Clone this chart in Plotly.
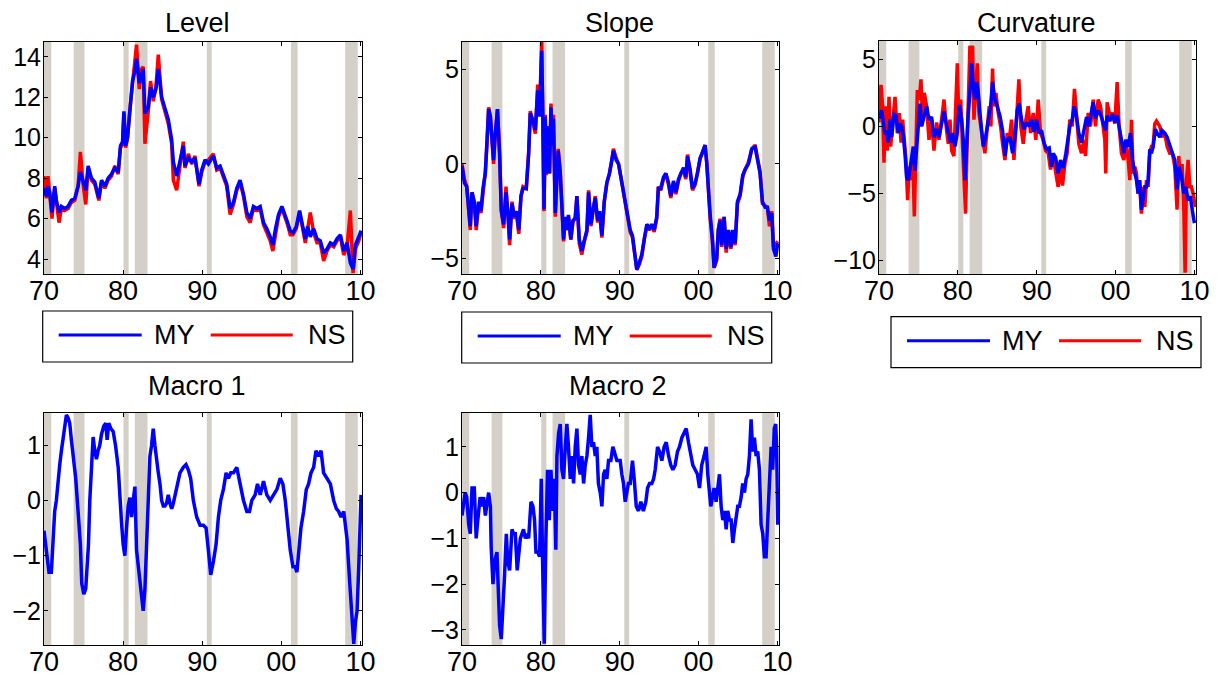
import plotly.graph_objects as go

# ---------------- data ----------------
recessions = [[1970.0, 1970.92], [1973.75, 1975.12], [1980.05, 1980.7], [1981.48, 1983.08],
              [1990.58, 1991.2], [2001.22, 2002.05], [2008.07, 2009.66]]

tick_years = [1970, 1980, 1990, 2000, 2010]
tick_year_labels = ["70", "80", "90", "00", "10"]

level_years = [1970.00, 1970.30, 1970.51, 1970.72, 1971.01, 1971.35, 1971.56, 1971.90, 1972.20, 1972.62,
               1973.04, 1973.46, 1973.89, 1974.31, 1974.60, 1974.94, 1975.28, 1975.58, 1976.00, 1976.42,
               1976.93, 1977.27, 1977.69, 1978.11, 1978.53, 1978.95, 1979.38, 1979.67, 1979.93, 1980.10,
               1980.31, 1980.56, 1980.86, 1981.19, 1981.49, 1981.70, 1982.04, 1982.33, 1982.54, 1982.76,
               1983.18, 1983.47, 1983.81, 1984.15, 1984.45, 1984.87, 1985.29, 1985.71, 1986.14, 1986.35,
               1986.77, 1987.19, 1987.61, 1987.82, 1988.25, 1988.67, 1989.09, 1989.60, 1989.94, 1990.36,
               1990.78, 1991.41, 1991.84, 1992.26, 1992.68, 1993.10, 1993.53, 1993.95, 1994.37, 1994.79,
               1995.22, 1995.64, 1996.06, 1996.48, 1996.91, 1997.33, 1997.75, 1998.17, 1998.60, 1998.93,
               1999.27, 1999.65, 2000.07, 2000.37, 2000.71, 2001.13, 2001.47, 2001.89, 2002.31, 2002.61,
               2003.03, 2003.33, 2003.66, 2004.09, 2004.51, 2004.93, 2005.35, 2005.78, 2006.20, 2006.62,
               2007.04, 2007.47, 2007.89, 2008.31, 2008.73, 2009.07, 2009.37, 2009.79, 2010.08]
level_my = [7.5, 7.1, 7.6, 7.3, 6.3, 7.6, 6.9, 6.3, 6.6, 6.5,
            6.6, 6.9, 7.0, 7.6, 8.3, 7.8, 7.4, 8.6, 8.0, 7.8,
            7.0, 7.9, 7.6, 8.0, 8.2, 8.5, 8.3, 9.6, 9.8, 11.3,
            9.6, 10.0, 11.6, 12.8, 13.3, 13.9, 12.7, 13.2, 13.4, 11.2,
            11.5, 12.5, 12.0, 12.4, 13.4, 12.0, 11.5, 10.9, 9.9, 8.8,
            8.1, 8.8, 9.6, 8.6, 9.0, 8.8, 9.0, 7.7, 8.4, 8.9,
            8.7, 9.1, 8.5, 8.6, 8.2, 7.7, 6.5, 6.8, 7.5, 7.9,
            7.2, 6.3, 6.0, 6.6, 6.5, 6.6, 5.8, 5.5, 5.1, 4.7,
            5.5, 6.2, 6.6, 6.3, 5.9, 5.4, 5.3, 5.6, 6.4, 5.8,
            5.0, 5.6, 5.1, 5.5, 5.0, 4.9, 4.3, 4.5, 4.8, 4.7,
            5.0, 5.2, 4.4, 4.8, 3.8, 3.5, 4.7, 5.1, 5.4]
level_ns = [8.1, 7.0, 8.1, 7.2, 6.0, 7.5, 6.7, 5.8, 6.5, 6.4,
            6.5, 6.8, 6.9, 7.6, 9.3, 7.7, 6.7, 8.5, 7.9, 7.7,
            6.9, 7.8, 7.5, 7.9, 8.1, 8.6, 8.2, 9.5, 9.7, 11.2,
            9.5, 10.0, 11.4, 12.6, 14.0, 14.6, 12.4, 13.4, 13.5, 9.7,
            11.3, 12.8, 11.8, 12.5, 14.1, 11.9, 11.3, 10.7, 9.7, 7.9,
            7.4, 8.7, 9.8, 8.5, 9.2, 8.7, 9.1, 7.6, 8.3, 8.8,
            8.9, 9.2, 8.4, 8.5, 8.1, 7.6, 6.2, 6.7, 7.4, 7.8,
            7.1, 6.1, 5.8, 6.5, 6.4, 6.5, 5.7, 5.3, 4.9, 4.4,
            5.3, 6.1, 6.5, 6.2, 5.8, 5.2, 5.2, 5.5, 6.3, 5.7,
            4.8, 5.5, 6.3, 5.3, 4.8, 4.8, 3.9, 4.4, 4.7, 4.6,
            4.9, 5.1, 4.2, 4.6, 6.4, 3.3, 4.5, 4.9, 5.3]

slope_years = [1970.00, 1970.30, 1970.60, 1970.85, 1971.05, 1971.27, 1971.56, 1971.80, 1972.10, 1972.40,
               1972.66, 1972.96, 1973.17, 1973.38, 1973.60, 1973.80, 1974.00, 1974.20, 1974.50, 1974.77,
               1974.98, 1975.28, 1975.58, 1975.80, 1976.04, 1976.34, 1976.63, 1976.90, 1977.20, 1977.48,
               1977.73, 1978.15, 1978.45, 1978.66, 1979.00, 1979.30, 1979.60, 1979.84, 1980.10, 1980.26,
               1980.40, 1980.56, 1980.70, 1980.90, 1981.10, 1981.28, 1981.45, 1981.60, 1981.83, 1982.04,
               1982.20, 1982.46, 1982.67, 1982.88, 1983.10, 1983.30, 1983.50, 1983.80, 1984.06, 1984.36,
               1984.57, 1984.87, 1985.20, 1985.50, 1985.84, 1986.05, 1986.35, 1986.60, 1986.90, 1987.20,
               1987.45, 1987.74, 1988.04, 1988.37, 1988.70, 1989.00, 1989.20, 1989.56, 1989.85, 1990.15,
               1990.50, 1990.74, 1991.00, 1991.33, 1991.62, 1991.88, 1992.17, 1992.50, 1992.80, 1993.15,
               1993.44, 1993.78, 1994.07, 1994.37, 1994.70, 1994.90, 1995.20, 1995.55, 1995.85, 1996.19,
               1996.48, 1996.82, 1997.12, 1997.46, 1997.75, 1998.09, 1998.38, 1998.60, 1998.93, 1999.23,
               1999.57, 1999.86, 2000.20, 2000.50, 2000.83, 2001.04, 2001.25, 2001.47, 2001.76, 2001.97,
               2002.30, 2002.50, 2002.73, 2002.94, 2003.24, 2003.50, 2003.80, 2004.10, 2004.34, 2004.64,
               2004.93, 2005.27, 2005.60, 2005.90, 2006.33, 2006.75, 2007.17, 2007.46, 2007.80, 2008.10,
               2008.44, 2008.73, 2008.99, 2009.28, 2009.50, 2009.80, 2010.04]
slope_my = [-0.1, -1.0, -1.2, -2.5, -3.3, -1.5, -2.0, -3.3, -2.0, -2.5,
            -1.3, -0.5, 1.0, 2.9, 2.5, 1.0, 0.2, 1.5, 2.9, 0.5,
            -2.5, -3.2, -1.5, -2.5, -4.0, -2.1, -2.8, -2.5, -3.5, -1.7,
            -1.3, -1.3, 0.5, 2.7, 2.3, 1.8, 3.9, 2.5, 6.0, 2.5,
            -2.4, 2.5, -0.5, 2.0, -0.5, 3.0, 1.0, 2.4, -2.6, -0.8,
            0.7, -0.5, -2.0, -4.0, -2.8, -3.5, -2.7, -4.0, -3.0, -2.9,
            -1.7, -4.0, -4.6, -4.0, -3.5, -1.5, -3.2, -2.5, -1.8, -3.0,
            -2.5, -3.8, -2.0, -1.0, -0.5, 0.2, 0.7, 0.2, 0.0, -0.7,
            -1.5, -2.1, -2.5, -3.5, -3.8, -4.8, -5.6, -5.2, -4.8, -3.9,
            -3.2, -3.4, -3.2, -3.5, -2.8, -1.3, -1.3, -0.7, -0.5, -1.0,
            -1.7, -0.9, -1.5, -0.8, -0.5, -0.2, -0.7, 0.4, -0.3, -1.3,
            -1.0, -0.5, 0.3, 0.6, 1.0, 0.0, -1.5, -2.7, -4.0, -5.5,
            -5.0, -3.5, -3.0, -4.3, -2.8, -4.5, -3.5, -4.4, -3.5, -4.2,
            -2.0, -1.6, -0.6, -0.3, 0.0, 0.8, 0.9, 0.3, -0.5, -2.0,
            -2.3, -2.3, -3.0, -2.6, -4.5, -4.9, -4.2]
slope_ns = [0.0, -0.8, -1.2, -2.6, -3.5, -1.5, -2.1, -3.5, -2.2, -2.6,
            -1.4, -0.4, 1.1, 3.0, 2.5, 0.9, 0.0, 1.4, 2.9, 0.6,
            -2.4, -3.4, -1.2, -2.5, -4.3, -2.0, -2.9, -2.6, -3.7, -1.7,
            -1.2, -1.3, 0.6, 2.8, 2.2, 1.6, 4.2, 2.6, 6.5, 2.6,
            -2.5, 2.6, -0.6, 2.0, -0.5, 3.2, 1.1, 2.6, -2.8, -0.7,
            0.8, -0.4, -2.1, -4.1, -2.9, -3.5, -2.8, -4.0, -3.1, -2.8,
            -1.7, -4.2, -4.8, -4.1, -3.6, -1.4, -3.3, -2.6, -1.7, -3.1,
            -2.6, -3.9, -2.0, -1.0, -0.5, 0.2, 0.8, 0.3, 0.0, -0.7,
            -1.6, -2.2, -2.6, -3.6, -3.9, -4.9, -5.6, -5.3, -4.9, -3.9,
            -3.3, -3.5, -3.2, -3.6, -2.9, -1.2, -1.4, -0.8, -0.5, -1.1,
            -1.8, -1.0, -1.6, -0.9, -0.5, -0.3, -0.8, 0.5, -0.4, -1.4,
            -1.1, -0.5, 0.3, 0.6, 1.0, 0.1, -1.6, -2.9, -4.1, -5.5,
            -5.1, -3.5, -2.9, -4.4, -2.8, -4.7, -3.6, -4.5, -3.6, -4.3,
            -2.1, -1.7, -0.7, -0.3, 0.1, 0.8, 1.0, 0.3, -0.4, -2.1,
            -2.2, -2.3, -3.3, -2.5, -4.4, -4.2, -4.1]

curv_my_years = [1970.00, 1970.34, 1970.55, 1970.76, 1970.97, 1971.18, 1971.39, 1971.61, 1971.90, 1972.15,
                 1972.45, 1972.66, 1972.87, 1973.08, 1973.29, 1973.51, 1973.72, 1973.93, 1974.14, 1974.35,
                 1974.56, 1974.77, 1974.98, 1975.20, 1975.41, 1975.62, 1975.83, 1976.04, 1976.34, 1976.67,
                 1976.97, 1977.31, 1977.60, 1977.94, 1978.24, 1978.57, 1978.79, 1979.08, 1979.33, 1979.63,
                 1979.93, 1980.18, 1980.48, 1980.69, 1980.90, 1981.11, 1981.32, 1981.53, 1981.74, 1981.95,
                 1982.16, 1982.38, 1982.59, 1982.80, 1983.01, 1983.22, 1983.52, 1983.85, 1984.15, 1984.40,
                 1984.70, 1984.99, 1985.33, 1985.67, 1985.97, 1986.26, 1986.60, 1986.94, 1987.23, 1987.53,
                 1987.78, 1988.08, 1988.37, 1988.71, 1989.05, 1989.35, 1989.64, 1989.98, 1990.27, 1990.61,
                 1990.91, 1991.25, 1991.58, 1991.88, 1992.09, 1992.39, 1992.72, 1993.02, 1993.36, 1993.70,
                 1993.99, 1994.20, 1994.50, 1994.75, 1995.05, 1995.34, 1995.68, 1995.98, 1996.32, 1996.61,
                 1996.82, 1997.16, 1997.46, 1997.79, 1998.09, 1998.43, 1998.72, 1998.93, 1999.27, 1999.61,
                 1999.90, 2000.20, 2000.45, 2000.75, 2001.05, 2001.30, 2001.60, 2001.89, 2002.14, 2002.44,
                 2002.65, 2002.86, 2003.07, 2003.28, 2003.50, 2003.71, 2003.92, 2004.13, 2004.34, 2004.55,
                 2004.76, 2005.06, 2005.27, 2005.61, 2005.90, 2006.24, 2006.54, 2006.87, 2007.21, 2007.51,
                 2007.80, 2008.06, 2008.35, 2008.65, 2008.90, 2009.20, 2009.49, 2009.75, 2010.00]
curv_my = [0.6, 1.2, 0.3, -0.6, -0.3, -1.2, 0.5, -0.8, 0.9, 0.8,
           -0.5, 0.2, 0.0, -0.7, -2.0, -3.8, -4.0, -3.0, -2.5, -1.5,
           -3.3, -1.5, 0.2, 1.7, 0.0, 0.5, 1.2, 1.5, 0.5, 0.7,
           -0.8, -0.2, -0.8, 0.3, 1.1, 0.1, -0.5, -1.2, -0.5, -1.5,
           -0.5, 1.6, 0.5, -1.0, -4.0, -1.0, 1.0, 2.5, 4.7, 3.0,
           2.0, 3.3, 2.5, 1.0, 0.0, -1.5, -0.8, 0.5, 1.5, 3.3,
           2.0, 1.5, 0.8, -0.3, -2.2, -1.0, -0.8, -2.0, -0.8, 1.2,
           1.7, 0.5, -0.2, 0.3, 0.0, 0.5, -0.4, 0.5, -0.5, -0.3,
           -1.2, -1.7, -1.6, -3.0, -2.0, -2.3, -3.5, -2.5, -3.1, -2.0,
           -1.0, 0.0, 0.5, 1.5, 0.7, -0.5, -1.2, -0.2, 0.7, 0.0,
           0.8, 1.8, 0.6, 1.2, 0.9, 0.3, -0.3, 0.8, 0.4, 0.9,
           0.3, 0.8, 0.0, -1.3, -2.0, -1.0, -1.5, -0.5, -2.5, -3.5,
           -4.0, -5.0, -4.0, -6.2, -5.5, -4.5, -4.5, -4.0, -1.7, -2.0,
           -1.5, -0.2, -0.5, -0.8, -0.3, -0.5, -0.8, -1.5, -2.0, -2.5,
           -4.7, -3.0, -3.7, -5.0, -4.5, -5.5, -5.2, -6.3, -7.2]

curv_ns_years = [1970.00, 1970.25, 1970.46, 1970.63, 1970.84, 1971.06, 1971.27, 1971.48, 1971.69, 1972.03,
                 1972.32, 1972.58, 1972.79, 1973.00, 1973.21, 1973.42, 1973.63, 1973.84, 1974.05, 1974.27,
                 1974.48, 1974.69, 1974.86, 1975.11, 1975.32, 1975.53, 1975.74, 1976.04, 1976.34, 1976.67,
                 1976.97, 1977.31, 1977.60, 1977.94, 1978.24, 1978.57, 1978.79, 1979.00, 1979.21, 1979.50,
                 1979.76, 1979.93, 1980.10, 1980.35, 1980.60, 1980.81, 1980.98, 1981.19, 1981.36, 1981.53,
                 1981.74, 1981.87, 1982.04, 1982.21, 1982.46, 1982.67, 1982.88, 1983.14, 1983.43, 1983.73,
                 1983.98, 1984.19, 1984.40, 1984.57, 1984.83, 1985.12, 1985.42, 1985.67, 1985.97, 1986.26,
                 1986.52, 1986.81, 1987.11, 1987.44, 1987.74, 1987.99, 1988.29, 1988.63, 1988.92, 1989.22,
                 1989.56, 1989.89, 1990.19, 1990.49, 1990.82, 1991.12, 1991.46, 1991.75, 1992.09, 1992.43,
                 1992.72, 1993.02, 1993.27, 1993.57, 1993.86, 1994.20, 1994.50, 1994.79, 1995.05, 1995.34,
                 1995.68, 1995.98, 1996.19, 1996.53, 1996.82, 1997.16, 1997.46, 1997.79, 1998.09, 1998.43,
                 1998.64, 1998.76, 1998.93, 1999.27, 1999.61, 1999.90, 2000.20, 2000.45, 2000.75, 2001.05,
                 2001.30, 2001.60, 2001.81, 2002.02, 2002.23, 2002.44, 2002.65, 2002.86, 2003.07, 2003.28,
                 2003.50, 2003.71, 2003.92, 2004.13, 2004.34, 2004.55, 2004.76, 2004.97, 2005.18, 2005.61,
                 2005.90, 2006.24, 2006.54, 2006.87, 2007.21, 2007.51, 2007.80, 2008.01, 2008.23, 2008.44,
                 2008.65, 2008.82, 2008.99, 2009.20, 2009.41, 2009.62, 2009.83, 2010.13]
curv_ns = [0.3, 3.1, 1.5, -2.7, 1.5, -1.8, 2.2, -1.5, 0.0, 2.2,
           -0.5, 1.0, -1.2, 0.5, -1.0, -2.5, -5.5, -3.0, -4.0, -2.0,
           -6.7, -1.0, 2.7, 2.0, 3.5, 0.5, 2.5, 1.5, -1.0, 0.5,
           -1.8, 0.3, -1.0, 0.5, 2.0, -0.3, -1.3, 0.5, -1.8, -2.2,
           1.8, 4.7, 1.0, 2.0, -1.5, -5.0, -6.5, -1.0, 2.5, 6.0,
           5.5, 6.0, 0.5, 2.5, 4.7, 1.0, 0.0, -1.0, -2.0, 0.0,
           1.5, 0.0, 4.3, 1.5, 2.5, 1.0, 0.0, -1.3, -2.5, -0.5,
           -1.0, 0.5, -2.5, 0.5, 3.5, 0.0, -1.3, 0.5, 1.5, -0.5,
           1.0, -1.0, 2.0, -0.5, -1.0, -1.8, -2.0, -3.2, -2.2, -3.5,
           -4.5, -3.0, -4.4, -2.8, -2.0, 0.5, 0.0, 2.8, 1.0, -1.3,
           -2.0, -1.0, -2.2, 1.0, 0.0, 2.0, 0.0, 2.0, 1.5, 0.0,
           -1.0, -3.5, 1.8, 0.8, 1.0, 0.2, 3.3, 0.0, -2.0, -2.5,
           -1.0, -2.5, -4.0, 0.5, -3.5, -3.0, -3.5, -5.0, -4.5, -6.5,
           -4.5, -6.0, -4.0, -4.5, -2.0, -1.5, -1.5, 0.2, 0.4, 0.0,
           -0.8, -0.5, -1.5, -2.0, -2.0, -3.0, -6.2, -2.2, -4.0, -2.8,
           -6.0, -10.9, -4.0, -2.5, -4.5, -4.5, -5.0, -6.0]

macro1_years = [1970.00, 1970.30, 1970.63, 1970.93, 1971.14, 1971.35, 1971.56, 1971.77, 1971.99, 1972.20,
                1972.41, 1972.62, 1972.83, 1973.04, 1973.25, 1973.46, 1973.76, 1974.01, 1974.31, 1974.60,
                1974.77, 1975.03, 1975.28, 1975.45, 1975.62, 1975.79, 1976.00, 1976.21, 1976.42, 1976.63,
                1976.84, 1977.05, 1977.27, 1977.56, 1977.81, 1977.98, 1978.19, 1978.45, 1978.74, 1979.04,
                1979.38, 1979.59, 1979.80, 1980.01, 1980.22, 1980.43, 1980.64, 1980.86, 1981.07, 1981.28,
                1981.49, 1981.70, 1981.91, 1982.12, 1982.33, 1982.54, 1982.76, 1982.97, 1983.18, 1983.39,
                1983.60, 1983.81, 1984.02, 1984.23, 1984.45, 1984.66, 1984.87, 1985.08, 1985.29, 1985.50,
                1985.71, 1985.92, 1986.14, 1986.35, 1986.56, 1986.77, 1986.98, 1987.19, 1987.40, 1987.61,
                1987.95, 1988.25, 1988.54, 1988.88, 1989.30, 1989.73, 1990.15, 1990.49, 1990.78, 1991.08,
                1991.42, 1991.75, 1992.05, 1992.34, 1992.68, 1993.02, 1993.32, 1993.61, 1993.95, 1994.37,
                1994.79, 1995.22, 1995.64, 1995.98, 1996.27, 1996.69, 1996.99, 1997.33, 1997.75, 1998.17,
                1998.60, 1999.02, 1999.44, 1999.86, 2000.20, 2000.50, 2000.79, 2001.13, 2001.47, 2001.76,
                2001.97, 2002.19, 2002.48, 2002.82, 2003.16, 2003.45, 2003.75, 2004.09, 2004.38, 2004.72,
                2005.02, 2005.35, 2005.78, 2006.20, 2006.62, 2006.96, 2007.25, 2007.55, 2007.89, 2008.31,
                2008.65, 2008.94, 2009.16, 2009.37, 2009.58, 2009.79, 2010.00, 2010.08]
macro1 = [-0.55, -0.9, -1.3, -1.3, -0.6, -0.2, 0.0, 0.4, 0.65, 0.9,
          1.1, 1.3, 1.55, 1.5, 1.4, 1.1, 0.7, 0.4, -0.2, -0.8,
          -1.5, -1.7, -1.6, -1.2, -0.8, 0.0, 0.7, 1.15, 0.9, 0.75,
          0.9, 1.0, 1.2, 1.35, 1.4, 1.1, 1.4, 1.3, 1.25, 1.0,
          0.6, 0.0, -0.4, -0.8, -1.0, -0.5, -0.1, 0.05, -0.3, 0.0,
          0.25, -0.9, -1.2, -1.5, -1.7, -2.0, -1.6, -0.9, 0.0, 0.8,
          1.0, 1.3, 1.0, 0.7, 0.5, 0.3, 0.0, -0.1, -0.1, -0.05,
          0.1, -0.05, -0.15, -0.05, 0.1, 0.2, 0.4, 0.5, 0.55, 0.6,
          0.65, 0.55, 0.4, 0.0, -0.3, -0.45, -0.45, -0.5, -0.9, -1.35,
          -1.1, -0.8, -0.3, 0.0, 0.2, 0.5, 0.4, 0.5, 0.5, 0.6,
          0.3, 0.0, -0.2, -0.2, 0.0, 0.1, 0.3, 0.1, 0.35, 0.1,
          0.0, 0.1, 0.2, 0.4, 0.3, 0.0, -0.4, -0.9, -1.2, -1.2,
          -1.3, -0.9, -0.5, -0.2, 0.2, 0.3, 0.5, 0.6, 0.9, 0.8,
          0.9, 0.5, 0.4, 0.3, 0.0, -0.15, -0.2, -0.3, -0.2, -0.7,
          -1.5, -2.2, -2.6, -2.2, -2.0, -1.2, -0.5, 0.1]

macro2_years = [1970.00, 1970.20, 1970.40, 1970.60, 1970.85, 1971.05, 1971.27, 1971.56, 1971.80, 1972.00,
                1972.30, 1972.53, 1972.75, 1972.96, 1973.17, 1973.38, 1973.60, 1973.70, 1973.93, 1974.14,
                1974.43, 1974.65, 1974.77, 1974.98, 1975.20, 1975.40, 1975.62, 1975.80, 1976.04, 1976.34,
                1976.55, 1976.76, 1977.00, 1977.20, 1977.40, 1977.60, 1977.80, 1978.03, 1978.24, 1978.45,
                1978.75, 1979.00, 1979.20, 1979.38, 1979.60, 1979.84, 1980.05, 1980.22, 1980.43, 1980.64,
                1980.85, 1981.07, 1981.28, 1981.50, 1981.70, 1981.90, 1982.04, 1982.25, 1982.46, 1982.67,
                1982.88, 1983.10, 1983.30, 1983.50, 1983.73, 1983.94, 1984.15, 1984.36, 1984.57, 1984.78,
                1985.00, 1985.20, 1985.42, 1985.63, 1985.84, 1986.05, 1986.26, 1986.47, 1986.68, 1986.90,
                1987.10, 1987.30, 1987.53, 1987.74, 1987.95, 1988.16, 1988.37, 1988.58, 1988.88, 1989.13,
                1989.43, 1989.64, 1989.85, 1990.06, 1990.27, 1990.48, 1990.70, 1990.90, 1991.10, 1991.33,
                1991.62, 1991.84, 1992.10, 1992.38, 1992.68, 1993.00, 1993.32, 1993.53, 1993.78, 1994.07,
                1994.30, 1994.50, 1994.80, 1995.05, 1995.34, 1995.64, 1995.90, 1996.20, 1996.48, 1996.74,
                1997.03, 1997.33, 1997.58, 1997.88, 1998.17, 1998.43, 1998.72, 1999.00, 1999.27, 1999.57,
                1999.86, 2000.12, 2000.40, 2000.70, 2000.96, 2001.17, 2001.38, 2001.55, 2001.76, 2001.97,
                2002.23, 2002.44, 2002.65, 2002.86, 2003.07, 2003.28, 2003.50, 2003.70, 2003.92, 2004.13,
                2004.34, 2004.55, 2004.76, 2004.97, 2005.18, 2005.40, 2005.60, 2005.82, 2006.03, 2006.24,
                2006.45, 2006.66, 2006.87, 2007.08, 2007.30, 2007.50, 2007.72, 2007.93, 2008.14, 2008.35,
                2008.56, 2008.77, 2008.98, 2009.20, 2009.40, 2009.60, 2009.78, 2009.90, 2010.04]
macro2 = [-0.5, -0.2, 0.0, -0.1, -0.7, -0.9, 0.1, 0.1, -1.0, -0.6,
          -0.1, -0.3, -0.1, -0.5, -0.3, 0.0, -0.3, -1.2, -2.0, -1.5,
          -1.3, -2.2, -2.9, -3.2, -2.6, -1.8, -0.9, -1.5, -1.7, -0.8,
          -0.9, -0.9, -1.7, -1.4, -1.0, -0.9, -0.8, -1.0, -0.9, -1.0,
          -0.2, -0.3, -0.6, -1.3, -1.3, -1.4, 0.3, -1.5, -3.3, -1.0,
          0.5, -0.6, 0.5, -0.4, 0.3, -1.25, 0.8, 1.3, 1.5, 0.5,
          0.3, 1.0, 1.5, 1.0, 0.3, 0.8, 0.2, 1.0, 1.4, 0.6,
          0.4, 0.8, 0.2, 0.6, 0.8, 1.2, 1.7, 1.0, 1.1, 0.8,
          1.0, 0.2, 0.0, -0.3, 0.4, 0.5, 0.3, 0.7, 0.7, 1.0,
          0.8, 0.7, 0.7, 0.7, 0.4, 0.2, -0.2, 0.0, 0.2, 0.2,
          0.7, 0.3, -0.3, -0.4, -0.2, -0.4, -0.2, 0.1, 0.2, 0.2,
          0.3, 0.5, 1.0, 0.9, 0.7, 1.0, 1.1, 0.8, 0.6, 0.5,
          0.6, 0.9, 1.0, 1.2, 1.3, 1.4, 1.1, 0.8, 0.6, 0.5,
          0.4, 0.1, 0.6, 0.8, 1.0, 0.4, 0.0, -0.3, -0.1, 0.1,
          -0.2, 0.1, 0.4, -0.3, -0.6, -0.4, -0.8, -0.4, -0.6, -0.6,
          -1.1, -0.8, -0.6, -0.3, -0.3, -0.1, 0.2, 0.0, 0.3, 0.4,
          0.8, 1.6, 0.9, 1.2, 0.8, 0.9, 0.5, -0.7, -0.9, -1.4,
          -1.4, -0.6, 0.3, 1.0, 0.5, 1.4, 1.5, 1.0, -0.7]

# ---------------- layout geometry (pixels, relative to the figure) ----------------
# the page body adds an 8px margin, so figure coordinates are page coordinates minus 8
W, H = 1215, 679
FONT = "Liberation Sans, Arial, Helvetica, sans-serif"
FS = 27        # titles / legend / x tick labels
FS_Y = 25      # y tick labels
BAND = "#D4D0C8"
BLUE = "#0000FF"
RED = "#FF0000"

panels = [
    dict(title="Level", px=(36, 354), py=(34, 266), yr=(3.26, 14.73),
         yt=[4, 6, 8, 10, 12, 14], title_x=189, title_y=15),
    dict(title="Slope", px=(454, 771), py=(34, 266), yr=(-5.83, 6.46),
         yt=[-5, 0, 5], title_x=611, title_y=15),
    dict(title="Curvature", px=(871, 1188), py=(33, 266), yr=(-10.99, 6.36),
         yt=[-10, -5, 0, 5], title_x=1028, title_y=15),
    dict(title="Macro 1", px=(36, 354), py=(405, 637), yr=(-2.62, 1.585),
         yt=[-2, -1, 0, 1], title_x=189, title_y=378),
    dict(title="Macro 2", px=(454, 771), py=(405, 637), yr=(-3.33, 1.74),
         yt=[-3, -2, -1, 0, 1], title_x=610, title_y=378),
]

series = [
    [(level_years, level_ns, RED), (level_years, level_my, BLUE)],
    [(slope_years, slope_ns, RED), (slope_years, slope_my, BLUE)],
    [(curv_ns_years, curv_ns, RED), (curv_my_years, curv_my, BLUE)],
    [(macro1_years, macro1, BLUE)],
    [(macro2_years, macro2, BLUE)],
]


def fx(p):
    return p / W


def fy(p):
    return 1 - p / H


def lab(v):
    return str(v).replace("-", "\u2212")


fig = go.Figure()
layout = dict(width=W, height=H, margin=dict(l=0, r=0, t=0, b=0, autoexpand=False),
              paper_bgcolor="white", plot_bgcolor="white", showlegend=False,
              font=dict(family=FONT, size=FS, color="black"))
shapes = []
annotations = []

for i, (p, ser) in enumerate(zip(panels, series), start=1):
    xa = "xaxis" if i == 1 else f"xaxis{i}"
    ya = "yaxis" if i == 1 else f"yaxis{i}"
    xr = "x" if i == 1 else f"x{i}"
    yr = "y" if i == 1 else f"y{i}"
    common = dict(showline=True, linecolor="black", linewidth=1, mirror="ticks",
                  ticks="inside", ticklen=4, tickwidth=1, tickcolor="black",
                  showgrid=False, zeroline=False, automargin=False)
    layout[xa] = dict(common, domain=[fx(p["px"][0]), fx(p["px"][1])], anchor=yr,
                      range=[1970, 2010.2], tickvals=tick_years, ticktext=tick_year_labels,
                      ticklabelstandoff=-7,
                      tickfont=dict(family=FONT, size=FS, color="black"))
    layout[ya] = dict(common, domain=[fy(p["py"][1]), fy(p["py"][0])], anchor=xr,
                      range=list(p["yr"]), tickvals=p["yt"], ticktext=[lab(v) for v in p["yt"]],
                      ticklabelstandoff=-3,
                      tickfont=dict(family=FONT, size=FS_Y, color="black"))
    for r0, r1 in recessions:
        shapes.append(dict(type="rect", xref=xr, yref=f"{yr} domain", x0=r0, x1=r1, y0=0, y1=1,
                           fillcolor=BAND, line=dict(width=0), layer="below"))
    for xs, ys, col in ser:
        fig.add_trace(go.Scatter(x=xs, y=ys, mode="lines", xaxis=xr, yaxis=yr,
                                 line=dict(color=col, width=3.5), hoverinfo="skip"))
    annotations.append(dict(text=p["title"], x=fx(p["title_x"]), y=fy(p["title_y"]),
                            xref="paper", yref="paper", xanchor="center", yanchor="middle",
                            showarrow=False, font=dict(family=FONT, size=FS, color="black")))

# manual MATLAB-style legends (box + long line samples)
legend_boxes = [(34.7, 303), (453.7, 304), (883, 308.7)]
for L, T in legend_boxes:
    shapes.append(dict(type="rect", xref="paper", yref="paper", x0=fx(L), x1=fx(L + 310),
                       y0=fy(T + 51), y1=fy(T), line=dict(color="black", width=1.2),
                       fillcolor="white"))
    ly = T + 24
    shapes.append(dict(type="line", xref="paper", yref="paper", x0=fx(L + 16), x1=fx(L + 99),
                       y0=fy(ly), y1=fy(ly), line=dict(color=BLUE, width=3)))
    shapes.append(dict(type="line", xref="paper", yref="paper", x0=fx(L + 168), x1=fx(L + 250),
                       y0=fy(ly), y1=fy(ly), line=dict(color=RED, width=3)))
    for txt, off in (("MY", 109), ("NS", 263)):
        annotations.append(dict(text=txt, x=fx(L + off), y=fy(T + 24), xref="paper", yref="paper",
                                xanchor="left", yanchor="middle", showarrow=False,
                                font=dict(family=FONT, size=FS, color="black")))

layout["shapes"] = shapes
layout["annotations"] = annotations
fig.update_layout(**layout)
fig.write_html("out.html")
